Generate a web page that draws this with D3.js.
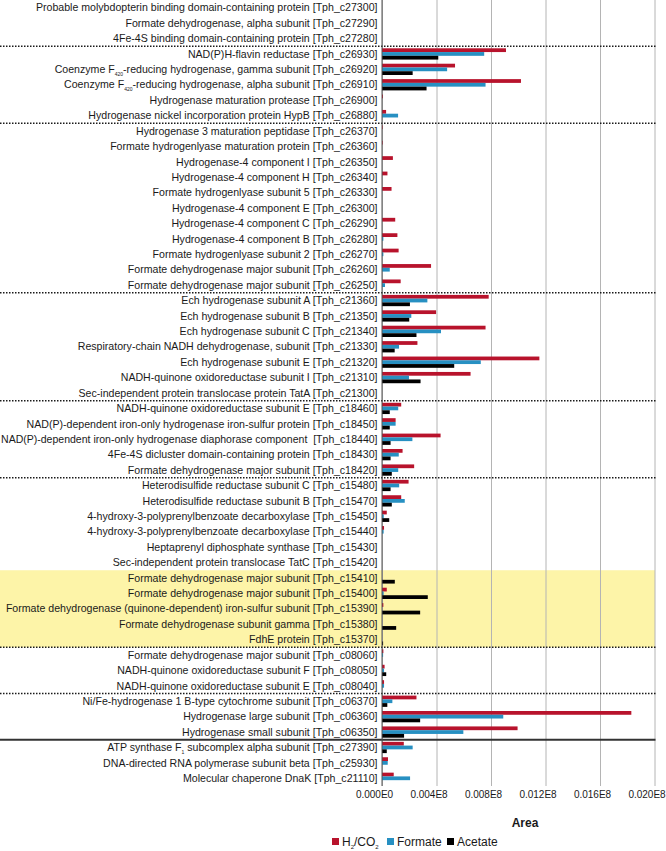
<!DOCTYPE html>
<html>
<head>
<meta charset="utf-8">
<script src="https://cdn.jsdelivr.net/npm/d3@7"></script>
<style>
  html, body { margin: 0; padding: 0; background: #fff; }
  svg { display: block; font-family: "Liberation Sans", Arial, sans-serif; }
  text { white-space: pre; }
</style>
</head>
<body>
<div id="chart"></div>
<script>
// ---------------- DATA ----------------
const categories = [
  "Probable molybdopterin binding domain-containing protein [Tph_c27300]",
  "Formate dehydrogenase, alpha subunit [Tph_c27290]",
  "4Fe-4S binding domain-containing protein [Tph_c27280]",
  "NAD(P)H-flavin reductase [Tph_c26930]",
  "Coenzyme F_{420}-reducing hydrogenase, gamma subunit [Tph_c26920]",
  "Coenzyme F_{420}-reducing hydrogenase, alpha subunit [Tph_c26910]",
  "Hydrogenase maturation protease [Tph_c26900]",
  "Hydrogenase nickel incorporation protein HypB [Tph_c26880]",
  "Hydrogenase 3 maturation peptidase [Tph_c26370]",
  "Formate hydrogenlyase maturation protein [Tph_c26360]",
  "Hydrogenase-4 component I [Tph_c26350]",
  "Hydrogenase-4 component H [Tph_c26340]",
  "Formate hydrogenlyase subunit 5 [Tph_c26330]",
  "Hydrogenase-4 component E [Tph_c26300]",
  "Hydrogenase-4 component C [Tph_c26290]",
  "Hydrogenase-4 component B [Tph_c26280]",
  "Formate hydrogenlyase subunit 2 [Tph_c26270]",
  "Formate dehydrogenase major subunit [Tph_c26260]",
  "Formate dehydrogenase major subunit [Tph_c26250]",
  "Ech hydrogenase subunit A [Tph_c21360]",
  "Ech hydrogenase subunit B [Tph_c21350]",
  "Ech hydrogenase subunit C [Tph_c21340]",
  "Respiratory-chain NADH dehydrogenase, subunit [Tph_c21330]",
  "Ech hydrogenase subunit E [Tph_c21320]",
  "NADH-quinone oxidoreductase subunit I [Tph_c21310]",
  "Sec-independent protein translocase protein TatA [Tph_c21300]",
  "NADH-quinone oxidoreductase subunit E [Tph_c18460]",
  "NAD(P)-dependent iron-only hydrogenase iron-sulfur protein [Tph_c18450]",
  "NAD(P)-dependent iron-only hydrogenase diaphorase component  [Tph_c18440]",
  "4Fe-4S dicluster domain-containing protein [Tph_c18430]",
  "Formate dehydrogenase major subunit [Tph_c18420]",
  "Heterodisulfide reductase subunit C [Tph_c15480]",
  "Heterodisulfide reductase subunit B [Tph_c15470]",
  "4-hydroxy-3-polyprenylbenzoate decarboxylase [Tph_c15450]",
  "4-hydroxy-3-polyprenylbenzoate decarboxylase [Tph_c15440]",
  "Heptaprenyl diphosphate synthase [Tph_c15430]",
  "Sec-independent protein translocase TatC [Tph_c15420]",
  "Formate dehydrogenase major subunit [Tph_c15410]",
  "Formate dehydrogenase major subunit [Tph_c15400]",
  "Formate dehydrogenase (quinone-dependent) iron-sulfur subunit [Tph_c15390]",
  "Formate dehydrogenase subunit gamma [Tph_c15380]",
  "FdhE protein [Tph_c15370]",
  "Formate dehydrogenase major subunit [Tph_c08060]",
  "NADH-quinone oxidoreductase subunit F [Tph_c08050]",
  "NADH-quinone oxidoreductase subunit E [Tph_c08040]",
  "Ni/Fe-hydrogenase 1 B-type cytochrome subunit [Tph_c06370]",
  "Hydrogenase large subunit [Tph_c06360]",
  "Hydrogenase small subunit [Tph_c06350]",
  "ATP synthase F_{1} subcomplex alpha subunit [Tph_c27390]",
  "DNA-directed RNA polymerase subunit beta [Tph_c25930]",
  "Molecular chaperone DnaK [Tph_c21110]"
];

// Area values, in units of 0.001E8 (1e5)
const h2co2 = [
  0, 0, 0,
  9.1, 5.36, 10.2, 0.07, 0.3,
  0.05, 0.05, 0.8, 0.4, 0.7, 0, 0.97, 1.13, 1.22, 3.6, 1.37,
  7.83, 3.97, 7.6, 2.6, 11.55, 6.5, 0,
  1.41, 1.0, 4.3, 1.51, 2.36,
  1.95, 1.41, 0.35, 0.15, 0, 0, 0, 0.35, 0.1, 0, 0,
  0.1, 0.19, 0.15,
  2.53, 18.3, 9.95,
  1.6, 0.44, 0.86
];
const formate = [
  0, 0, 0,
  7.5, 4.78, 7.6, 0, 1.18,
  0, 0, 0, 0, 0, 0, 0, 0.1, 0.1, 0.57, 0.22,
  3.33, 2.15, 4.33, 1.25, 7.25, 1.98, 0,
  1.19, 1.0, 2.23, 1.23, 1.19,
  1.26, 1.67, 0.13, 0.12, 0, 0, 0, 0.12, 0, 0, 0,
  0.08, 0.15, 0.15,
  0.76, 8.9, 5.97,
  2.25, 0.42, 2.06
];
const acetate = [
  0, 0, 0,
  4.13, 2.25, 3.27, 0, 0,
  0, 0, 0, 0, 0, 0, 0, 0, 0, 0, 0,
  2.05, 2.0, 2.53, 0.93, 5.3, 2.83, 0,
  0.57, 0.57, 0.63, 0.63, 0.72,
  0.63, 0.72, 0.53, 0, 0, 0, 0.94, 3.36, 2.8, 1.04, 0.08,
  0, 0.31, 0,
  0.39, 2.8, 1.62,
  0.35, 0, 0
];

const seriesNames = ["H_{2}/CO_{2}", "Formate", "Acetate"];
const seriesColors = ["#b8132c", "#2790c2", "#000000"];

// first category of each new group (dotted separators), and of the control group (solid)
const dottedGroupStarts = [
  "NAD(P)H-flavin reductase [Tph_c26930]",
  "Hydrogenase 3 maturation peptidase [Tph_c26370]",
  "Ech hydrogenase subunit A [Tph_c21360]",
  "NADH-quinone oxidoreductase subunit E [Tph_c18460]",
  "Heterodisulfide reductase subunit C [Tph_c15480]",
  "Formate dehydrogenase major subunit [Tph_c08060]",
  "Ni/Fe-hydrogenase 1 B-type cytochrome subunit [Tph_c06370]"
];
const solidGroupStart = "ATP synthase F_{1} subcomplex alpha subunit [Tph_c27390]";
const highlightFirst = "Formate dehydrogenase major subunit [Tph_c15410]";
const highlightLast = "FdhE protein [Tph_c15370]";

const xDomainMax = 20;
const tickValues = [0, 4, 8, 12, 16, 20];
const tickLabels = ["0.000E0", "0.004E8", "0.008E8", "0.012E8", "0.016E8", "0.020E8"];
const xTitle = "Area";

// ---------------- CHART ----------------
const W = 666, H = 851;
const plotL = 382, plotR = 654.5, plotT = 0, plotB = 786;

const svg = d3.select("#chart").append("svg").attr("width", W).attr("height", H);

const x = d3.scaleLinear().domain([0, xDomainMax]).range([plotL, plotR]);
const y = d3.scaleBand().domain(categories).range([plotT, plotB]).padding(0);
const ySub = d3.scaleBand().domain(seriesNames).range([0, y.bandwidth()]).paddingInner(0).paddingOuter(0.55);

const data = categories.map((c, i) => ({ cat: c, vals: [h2co2[i], formate[i], acetate[i]] }));

// rich text helper (subscripts written as _{...})
function richText(sel, str, subSize) {
  const parts = str.split(/(_\{[^}]*\})/).filter(p => p);
  let pendingDy = 0;
  parts.forEach(p => {
    const m = p.match(/^_\{([^}]*)\}$/);
    if (m) {
      sel.append("tspan").attr("font-size", subSize).attr("dy", 2.5 + pendingDy).text(m[1]);
      pendingDy = -2.5;
    } else {
      const t = sel.append("tspan").text(p);
      if (pendingDy) t.attr("dy", pendingDy);
      pendingDy = 0;
    }
  });
}

// highlight band
svg.append("rect")
  .attr("x", 0)
  .attr("y", y(highlightFirst))
  .attr("width", plotR + 0.5)
  .attr("height", y(highlightLast) + y.bandwidth() - y(highlightFirst))
  .attr("fill", "#fdf4a8");

// gridlines
svg.append("g")
  .attr("transform", `translate(0,${plotB})`)
  .call(d3.axisBottom(x).tickValues(tickValues).tickSize(-(plotB - plotT)).tickFormat(""))
  .call(g => g.select(".domain").remove())
  .call(g => g.selectAll(".tick line").attr("stroke", "#b4b4b4").attr("stroke-width", 1));

// separators
svg.append("g").selectAll("line.dot")
  .data(dottedGroupStarts)
  .join("line")
  .attr("x1", 0).attr("x2", plotR + 1)
  .attr("y1", d => y(d)).attr("y2", d => y(d))
  .attr("stroke", "#1a1a1a").attr("stroke-width", 1.5)
  .attr("stroke-dasharray", "1.5,1.5");

svg.append("line")
  .attr("x1", 0).attr("x2", plotR + 1)
  .attr("y1", y(solidGroupStart)).attr("y2", y(solidGroupStart))
  .attr("stroke", "#333").attr("stroke-width", 2);

// bars
const rowG = svg.append("g").selectAll("g")
  .data(data)
  .join("g")
  .attr("transform", d => `translate(0,${y(d.cat)})`);

rowG.selectAll("rect")
  .data(d => d.vals.map((v, k) => ({ v, k })))
  .join("rect")
  .attr("x", x(0))
  .attr("y", d => ySub(seriesNames[d.k]))
  .attr("width", d => x(d.v) - x(0))
  .attr("height", ySub.bandwidth())
  .attr("fill", d => seriesColors[d.k]);

// zero axis line
svg.append("line")
  .attr("x1", x(0)).attr("x2", x(0))
  .attr("y1", plotT).attr("y2", plotB)
  .attr("stroke", "#555").attr("stroke-width", 1);

// category labels
const labelSize = 10.6;
const labelEnd = plotL - 4.5;
const labG = svg.append("g")
  .attr("fill", "#1a1a1a")
  .attr("text-anchor", "end");
categories.forEach(c => {
  const t = labG.append("text")
    .attr("font-size", labelSize)
    .attr("x", labelEnd)
    .attr("y", y(c) + y.bandwidth() / 2)
    .attr("dy", "0.35em");
  richText(t, c, 5);
  // keep the longest labels inside the picture
  const len = t.node().getComputedTextLength();
  const avail = labelEnd - 1;
  if (len > avail) t.attr("font-size", labelSize * avail / len);
});

// x axis labels
svg.append("g")
  .attr("transform", `translate(0,${plotB})`)
  .call(d3.axisBottom(x).tickValues(tickValues).tickSize(0).tickPadding(5)
        .tickFormat((d, i) => tickLabels[i]))
  .call(g => g.select(".domain").remove())
  .call(g => g.selectAll("text")
     .attr("font-family", "Liberation Sans, Arial, sans-serif")
     .attr("font-size", 10).attr("fill", "#1a1a1a").attr("dx", -8));

// x title
svg.append("text")
  .attr("x", 525).attr("y", 827)
  .attr("text-anchor", "middle")
  .attr("font-size", 12).attr("font-weight", "bold")
  .attr("fill", "#1a1a1a")
  .text(xTitle);

// legend
const legendX = [332, 387, 447];
const leg = svg.append("g").attr("font-size", 12).attr("fill", "#1a1a1a");
seriesNames.forEach((s, i) => {
  const g = leg.append("g").attr("transform", `translate(${legendX[i]},842)`);
  g.append("rect").attr("x", 0).attr("y", -4).attr("width", 7).attr("height", 7).attr("fill", seriesColors[i]);
  const t = g.append("text").attr("x", 10).attr("y", 0).attr("dy", "0.35em");
  richText(t, s, 6);
});
</script>
</body>
</html>
